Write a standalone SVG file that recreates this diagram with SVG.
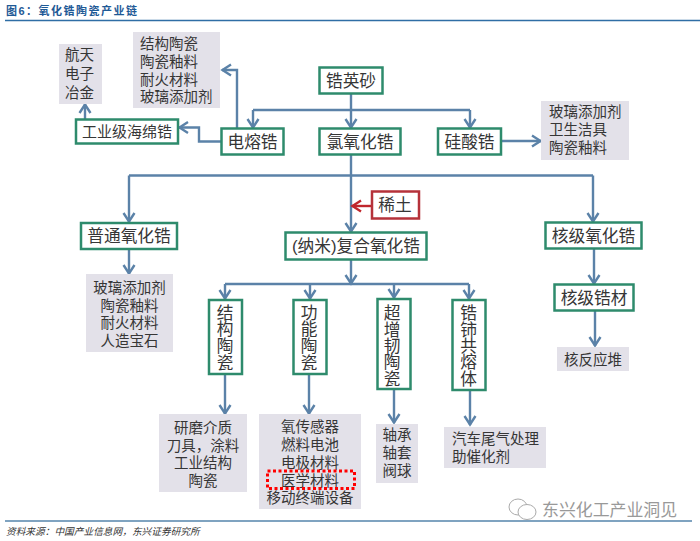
<svg xmlns="http://www.w3.org/2000/svg" width="700" height="541" viewBox="0 0 700 541">
<style>
text{font-family:"Liberation Sans","Noto Sans CJK SC",sans-serif;fill:#363636;text-anchor:middle}
.st{text-anchor:start}
.g rect{fill:#e3e1e9}
.g text{font-size:14.5px}
.b rect{fill:#fff;stroke:#2e8b6c;stroke-width:2.5}
.b text{font-size:16.7px}
.b text.v{writing-mode:vertical-rl;text-anchor:start}
.s text{font-size:15px}
.l{fill:none;stroke:#5b82a8;stroke-width:2.4}
.a{marker-end:url(#ah)}
.r{fill:none;stroke:#c0272d;stroke-width:2.4;marker-end:url(#rh)}
</style>
<defs>
<marker id="ah" markerUnits="userSpaceOnUse" markerWidth="16" markerHeight="16" refX="13" refY="8" orient="auto"><path d="M4 2.500L12.500 8L4 13.500" fill="none" stroke="#5b82a8" stroke-width="2.4"/></marker>
<marker id="rh" markerUnits="userSpaceOnUse" markerWidth="16" markerHeight="16" refX="13" refY="8" orient="auto"><path d="M4 2.500L12.500 8L4 13.500" fill="none" stroke="#c0272d" stroke-width="2.4"/></marker>
</defs>
<rect width="700" height="541" fill="#fff"/>
<g id="title">
<text class="st" x="6" y="15" style="font-size:11px;font-weight:700;fill:#1f5a96;letter-spacing:1.5px">图6：氧化锆陶瓷产业链</text>
<path d="M5 20.500H700" stroke="#2f6ea5" stroke-width="1.500"/>
</g>
<g id="connectors">
<path class="l a" d="M351 93V128"/>
<path class="l" d="M253 110H470"/>
<path class="l a" d="M253 110V128"/>
<path class="l a" d="M470 110V128"/>
<path class="l a" d="M237 128V70H222"/>
<path class="l a" d="M221 141.500H199V127.500H179"/>
<path class="l a" d="M85 119V104"/>
<path class="l a" d="M501 141H541"/>
<path class="l a" d="M351 155V232"/>
<path class="l" d="M129 175.500H593"/>
<path class="l a" d="M129 175.500V222"/>
<path class="l a" d="M593 175.500V222"/>
<path class="r" d="M372 206H352"/>
<path class="l a" d="M129 249V274"/>
<path class="l a" d="M351 260V284"/>
<path class="l" d="M225 284H469"/>
<path class="l a" d="M225 284V299"/>
<path class="l a" d="M310 284V299"/>
<path class="l a" d="M394 284V298"/>
<path class="l a" d="M469 284V299"/>
<path class="l a" d="M225 374V414"/>
<path class="l a" d="M309 374V414"/>
<path class="l a" d="M394 389V423"/>
<path class="l a" d="M470 390V425"/>
<path class="l a" d="M594 249V284"/>
<path class="l a" d="M595 311V346"/>
</g>
<g id="n-zyyingsha" class="b"><rect x="319.500" y="67.500" width="63" height="26"/><text x="351" y="86.500">锆英砂</text></g>
<g id="n-dianrong" class="b"><rect x="221.500" y="128.500" width="62" height="26"/><text x="252.500" y="147.500">电熔锆</text></g>
<g id="n-lvyang" class="b"><rect x="319.500" y="128.500" width="81" height="26"/><text x="360" y="147.500">氯氧化锆</text></g>
<g id="n-guisuan" class="b"><rect x="438" y="128.500" width="63" height="26"/><text x="469.500" y="147.500">硅酸锆</text></g>
<g id="n-haimian" class="b s"><rect x="76" y="119.500" width="102" height="24"/><text x="127" y="137">工业级海绵锆</text></g>
<g id="n-aero" class="g"><rect x="59" y="44" width="43" height="60"/><text><tspan x="79.500" y="60">航天</tspan><tspan x="79.500" y="79">电子</tspan><tspan x="79.500" y="98">冶金</tspan></text></g>
<g id="n-use1" class="g"><rect x="133" y="32" width="87" height="76"/>
<text class="st"><tspan x="140" y="49">结构陶瓷</tspan><tspan x="140" y="67">陶瓷釉料</tspan><tspan x="140" y="84.500">耐火材料</tspan><tspan x="140" y="102">玻璃添加剂</tspan></text></g>
<g id="n-use2" class="g"><rect x="541" y="101" width="88" height="59"/>
<text class="st"><tspan x="549" y="117">玻璃添加剂</tspan><tspan x="549" y="135">卫生洁具</tspan><tspan x="549" y="153">陶瓷釉料</tspan></text></g>
<g id="n-xitu"><rect x="372" y="191.500" width="47" height="27" fill="#fff" stroke="#b5323a" stroke-width="2.500"/><text x="395" y="211" style="font-size:16.7px">稀土</text></g>
<g id="n-hejiyang" class="b"><rect x="545.500" y="222.500" width="96" height="26"/><text x="593.500" y="241.500">核级氧化锆</text></g>
<g id="n-putong" class="b"><rect x="81" y="223" width="96" height="26"/><text x="129" y="242">普通氧化锆</text></g>
<g id="n-nano" class="b"><rect x="285.500" y="232.500" width="141" height="27"/><text x="356" y="252">(纳米)复合氧化锆</text></g>
<g id="n-use3" class="g"><rect x="86" y="274" width="87" height="78"/>
<text><tspan x="129.500" y="293">玻璃添加剂</tspan><tspan x="129.500" y="310.500">陶瓷釉料</tspan><tspan x="129.500" y="328">耐火材料</tspan><tspan x="129.500" y="346">人造宝石</tspan></text></g>
<g id="n-jiegou" class="b"><rect x="209" y="300" width="33" height="74"/><text class="v" x="223.500" y="304">结构陶瓷</text></g>
<g id="n-gongneng" class="b"><rect x="293.500" y="300" width="33" height="74"/><text class="v" x="307.500" y="304">功能陶瓷</text></g>
<g id="n-chaozeng" class="b"><rect x="377.500" y="299" width="33" height="90"/><text class="v" x="390.500" y="304.500" style="letter-spacing:-.3px">超增韧陶瓷</text></g>
<g id="n-gaoshi" class="b"><rect x="452.500" y="300" width="33" height="90"/><text class="v" x="467" y="304.500" style="letter-spacing:-.3px">锆铈共熔体</text></g>
<g id="n-hejigao" class="b"><rect x="554.500" y="284.500" width="79" height="26"/><text x="594" y="303.500">核级锆材</text></g>
<g id="n-heduizhan" class="g"><rect x="557" y="347" width="72" height="24"/><text x="593" y="364.500">核反应堆</text></g>
<g id="n-use4" class="g"><rect x="159" y="414" width="88" height="78"/>
<text><tspan x="203" y="433">研磨介质</tspan><tspan x="203" y="450.500">刀具，涂料</tspan><tspan x="203" y="468">工业结构</tspan><tspan x="203" y="486">陶瓷</tspan></text></g>
<g id="n-use5" class="g"><rect x="259" y="414" width="102" height="95"/>
<text><tspan x="310" y="432">氧传感器</tspan><tspan x="310" y="450">燃料电池</tspan><tspan x="310" y="468">电极材料</tspan><tspan x="310" y="485.500">医学材料</tspan><tspan x="310" y="503">移动终端设备</tspan></text></g>
<rect id="hl" x="267.500" y="471" width="87" height="17.500" fill="none" stroke="#f00" stroke-width="3" stroke-dasharray="3 2.500"/>
<g id="n-use6" class="g"><rect x="376" y="424" width="42" height="59"/>
<text><tspan x="397" y="440">轴承</tspan><tspan x="397" y="458">轴套</tspan><tspan x="397" y="476">阀球</tspan></text></g>
<g id="n-use7" class="g"><rect x="444" y="427" width="102" height="41"/>
<text class="st"><tspan x="452" y="444">汽车尾气处理</tspan><tspan x="452" y="462">助催化剂</tspan></text></g>
<g id="footer">
<path d="M5 521H692" stroke="#7fa3c0" stroke-width="2"/>
<text class="st" x="6" y="535" style="font-size:9.700px;font-style:italic;fill:#333">资料来源：中国产业信息网，东兴证券研究所</text>
</g>
<g id="watermark" fill="#fff" stroke="#aaa" stroke-width="1">
<ellipse cx="518" cy="507" rx="9" ry="8"/>
<ellipse cx="527" cy="512" rx="9" ry="7.500"/>
<text class="st" x="542" y="516" style="font-size:16.900px;fill:#999;stroke:none">东兴化工产业洞见</text>
</g>
</svg>
